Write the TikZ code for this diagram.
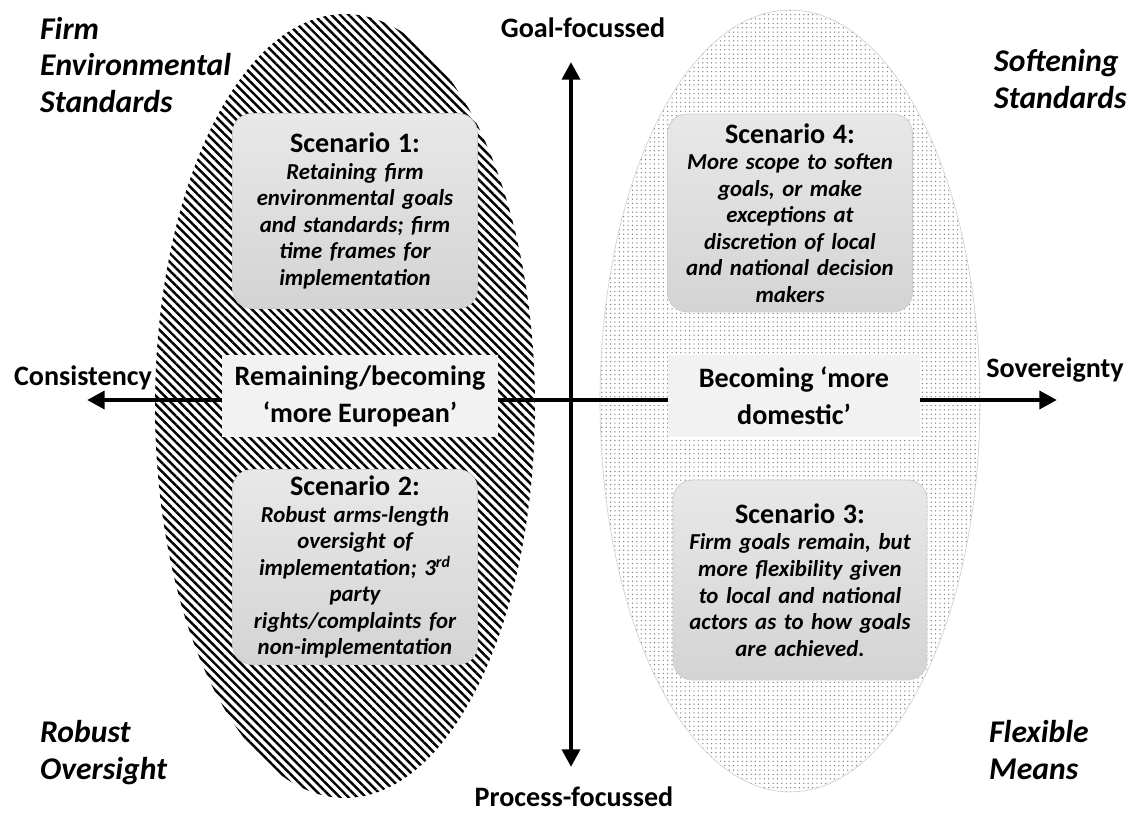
\documentclass[tikz,border=0pt]{standalone}
\usepackage{fontspec}
\setmainfont{Carlito}
\usetikzlibrary{arrows.meta,patterns.meta}

\tikzset{
  corner/.style={anchor=west, align=left, font=\fontsize{18}{21}\selectfont\bfseries\itshape},
  axislabel/.style={font=\fontsize{16}{19}\selectfont\bfseries},
  axisarrow/.style={line width=2.8pt, {Triangle[length=10pt,width=10pt]}-{Triangle[length=10pt,width=10pt]}},
  midbox/.style={fill=gray!10, align=center, inner sep=0pt, minimum height=1.64cm,
    font=\fontsize{16}{21}\selectfont\bfseries},
  scenbox/.style={rounded corners=11pt, top color=gray!18, bottom color=gray!34, draw=gray!40,
    align=center, inner sep=0pt, text width=4.6cm, minimum width=4.9cm, minimum height=3.9cm,
    font=\fontsize{13}{15.1}\selectfont\bfseries\itshape},
}
\newcommand\scentitle[1]{{\fontsize{16}{15.1}\selectfont\upshape #1}}

\begin{document}
\begin{tikzpicture}[x=0.02cm, y=-0.02cm]
\useasboundingbox (0,0) rectangle (1133,814);

% the two ellipses
\fill[pattern={Lines[angle=-45,distance=3.5pt,line width=1.4pt]}, pattern color=black]
  (345,406) ellipse [x radius=3.8cm, y radius=7.84cm];
\filldraw[draw=gray!35, pattern={Dots[distance=2.5pt,radius=0.42pt]}, pattern color=black!50]
  (790,401) ellipse [x radius=3.8cm, y radius=7.82cm];

% axes
\coordinate (cons) at (87,400);
\coordinate (sov) at (1057,400);
\coordinate (gtop) at (571,62);
\coordinate (pbot) at (571,767);
\draw[axisarrow] (cons) -- (sov);
\draw[axisarrow] (pbot) -- (gtop);

\node[axislabel] (goal) at (583,28) {Goal-focussed};
\node[axislabel] (process) at (574,797) {Process-focussed};
\node[axislabel] (consistency) at (83,378) {Consistency};
\node[axislabel] (sovereignty) at (1055,370) {Sovereignty};

% corner labels
\node[corner] (firm) at (34,65) {Firm\\Environmental\\Standards};
\node[corner] (soften) at (988,79) {Softening\\Standards};
\node[corner] (robust) at (34,753) {Robust\\Oversight};
\node[corner] (flexible) at (983,750) {Flexible\\Means};

% middle boxes
\node[midbox, minimum width=5.52cm] (europe) at (360,396) {Remaining/becoming\\‘more European’};
\node[midbox, minimum width=5.04cm] (domestic) at (794,396) {Becoming ‘more\\domestic’};

% scenarios
\node[scenbox] (scen1) at (355,211) {\scentitle{Scenario 1:}\\ Retaining firm\\ environmental goals\\
  and standards; firm\\ time frames for\\ implementation};
\node[scenbox] (scen2) at (355,567) {\scentitle{Scenario 2:}\\ Robust arms-length\\ oversight of\\
  implementation; 3\textsuperscript{rd}\\ party\\ rights/complaints for\\ non-implementation};
\node[scenbox, minimum height=3.96cm] (scen4) at (790,213) {\scentitle{Scenario 4:}\\ More scope to soften\\
  goals, or make\\ exceptions at\\ discretion of local\\ and national decision\\ makers};
\node[scenbox, minimum width=5.08cm, minimum height=4cm] (scen3) at (800,580) {\scentitle{Scenario 3:}\\
  Firm goals remain, but\\ more flexibility given\\ to local and national\\ actors as to how goals\\ are achieved.};
\end{tikzpicture}
\end{document}
